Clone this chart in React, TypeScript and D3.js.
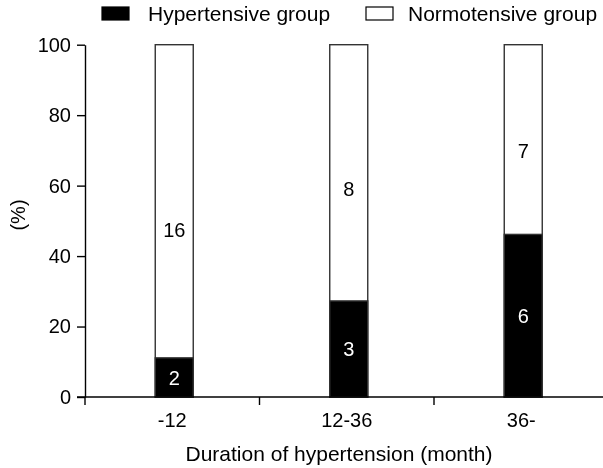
import React, { useEffect, useRef } from 'react';
import * as d3 from 'd3';

const categories = ['-12', '12-36', '36-'];
const hypertensive = [2, 3, 6];
const normotensive = [16, 8, 7];
const yTicks = [0, 20, 40, 60, 80, 100];
const seriesNames = ['Hypertensive group', 'Normotensive group'];

const Chart = ({ width = 603, height = 468 }) => {
  const chartRef = useRef<SVGSVGElement>(null);

  useEffect(() => {
    const font = '"Liberation Sans", Arial, sans-serif';
    const svg = d3.select(chartRef.current);
    svg.selectAll('*').remove();
    svg.attr('width', width).attr('height', height);

    const y = d3.scaleLinear().domain([0, 100]).range([397, 44.7]);
    const x = d3.scaleBand().domain(categories).range([85, 608.5]).padding(0);
    const barW = 38;
    const shift = 2;

    const rows = categories.map((c, i) => {
      const total = hypertensive[i] + normotensive[i];
      return { c, h: hypertensive[i], n: normotensive[i], hp: (hypertensive[i] / total) * 100 };
    });

    const g = svg.append('g');

    // white (normotensive) part: full bar
    g.selectAll('rect.norm')
      .data(rows)
      .enter()
      .append('rect')
      .attr('class', 'norm')
      .attr('x', (d) => x(d.c)! + x.bandwidth() / 2 - barW / 2 + shift)
      .attr('y', y(100))
      .attr('width', barW)
      .attr('height', y(0) - y(100))
      .style('fill', '#fff')
      .style('stroke', '#333')
      .style('stroke-width', 1.4);

    g.selectAll('rect.hyp')
      .data(rows)
      .enter()
      .append('rect')
      .attr('class', 'hyp')
      .attr('x', (d) => x(d.c)! + x.bandwidth() / 2 - barW / 2 + shift)
      .attr('y', (d) => y(d.hp))
      .attr('width', barW)
      .attr('height', (d) => y(0) - y(d.hp))
      .style('fill', '#000')
      .style('stroke', '#333')
      .style('stroke-width', 1.4);

    // count labels
    const normLabelAt = [47.5, 59, 70];
    g.selectAll('text.nl')
      .data(rows)
      .enter()
      .append('text')
      .attr('x', (d) => x(d.c)! + x.bandwidth() / 2 + shift)
      .attr('y', (d, i) => y(normLabelAt[i]))
      .attr('dy', '0.36em')
      .attr('text-anchor', 'middle')
      .style('font-family', font)
      .style('font-size', '20px')
      .style('fill', '#000')
      .text((d) => d.n);

    g.selectAll('text.hl')
      .data(rows)
      .enter()
      .append('text')
      .attr('x', (d) => x(d.c)! + x.bandwidth() / 2 + shift)
      .attr('y', (d) => y(d.hp / 2))
      .attr('dy', '0.36em')
      .attr('text-anchor', 'middle')
      .style('font-family', font)
      .style('font-size', '20px')
      .style('fill', '#fff')
      .text((d) => d.h);

    // y axis
    const yAxis = g
      .append('g')
      .attr('transform', 'translate(85,0)')
      .call(d3.axisLeft(y).tickValues(yTicks).tickSize(8).tickSizeOuter(0).tickPadding(6));
    yAxis.select('.domain').style('stroke', '#000').style('stroke-width', 1.4);
    yAxis.selectAll('.tick line').style('stroke', '#000').style('stroke-width', 1.4);
    yAxis
      .selectAll('.tick text')
      .style('font-family', font)
      .style('font-size', '20px')
      .style('fill', '#000');

    // x axis
    g.append('line')
      .attr('x1', 77)
      .attr('x2', width)
      .attr('y1', y(0))
      .attr('y2', y(0))
      .style('stroke', '#000')
      .style('stroke-width', 1.4);

    g.selectAll('line.xt')
      .data(categories)
      .enter()
      .append('line')
      .attr('x1', (d) => x(d)!)
      .attr('x2', (d) => x(d)!)
      .attr('y1', y(0))
      .attr('y2', y(0) + 8)
      .style('stroke', '#000')
      .style('stroke-width', 1.4);

    g.selectAll('text.xl')
      .data(categories)
      .enter()
      .append('text')
      .attr('x', (d) => x(d)! + x.bandwidth() / 2)
      .attr('y', 427)
      .attr('text-anchor', 'middle')
      .style('font-family', font)
      .style('font-size', '20px')
      .text((d) => d);

    g.append('text')
      .attr('x', 339)
      .attr('y', 461)
      .attr('text-anchor', 'middle')
      .style('font-family', font)
      .style('font-size', '21px')
      .text('Duration of hypertension (month)');

    g.append('text')
      .attr('transform', 'translate(18,215) rotate(-90)')
      .attr('dy', '0.36em')
      .attr('text-anchor', 'middle')
      .style('font-family', font)
      .style('font-size', '20px')
      .text('(%)');

    // legend
    const legend = g
      .selectAll('g.lg')
      .data(seriesNames)
      .enter()
      .append('g')
      .attr('transform', (d, i) => `translate(${i === 0 ? 102 : 366},0)`);
    legend
      .append('rect')
      .attr('x', 0)
      .attr('y', 7)
      .attr('width', 27)
      .attr('height', 13)
      .style('fill', (d, i) => (i === 0 ? '#000' : '#fff'))
      .style('stroke', '#000')
      .style('stroke-width', 1.2);
    legend
      .append('text')
      .attr('x', (d, i) => (i === 0 ? 46 : 42))
      .attr('y', 21)
      .style('font-family', font)
      .style('font-size', '21px')
      .text((d) => d);
  });

  return (
    <div style={{ position: 'fixed', left: 0, top: 0 }}>
      <svg ref={chartRef} style={{ display: 'block' }}></svg>
    </div>
  );
};

export default function App() {
  return <Chart />;
}
